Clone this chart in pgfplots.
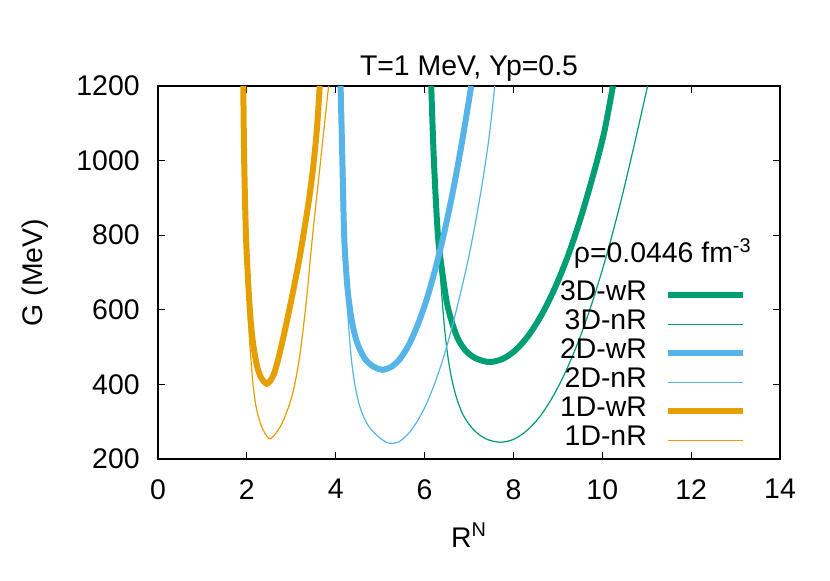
\documentclass[border=0pt]{standalone}
\usepackage{fontspec}
\setmainfont{Liberation Sans}
\usepackage{pgfplots}
\pgfplotsset{compat=1.18}

\definecolor{gpgreen}{HTML}{009E73}
\definecolor{gpblue}{HTML}{56B4E9}
\definecolor{gporange}{HTML}{E69F00}

\begin{document}
\fontsize{14.2bp}{17bp}\selectfont
\begin{tikzpicture}
\begin{axis}[
  scale only axis, width=311bp, height=186.5bp,
  xmin=0, xmax=14, ymin=200, ymax=1200,
  xtick={0,2,...,14}, ytick={200,400,...,1200},
  /pgf/number format/assume math mode=true,
  /pgf/number format/1000 sep={},
  tick align=inside, major tick length=3.5bp,
  axis line style={line width=0.7bp}, tick style={line width=0.6bp, black},
  xticklabel style={inner sep=0pt, yshift=-10bp},
  yticklabel style={inner sep=0pt, xshift=-9bp},
  xlabel={R\textsuperscript{N}}, ylabel={G (MeV)},
  xlabel style={at={(axis description cs:0.5,-0.236)}, anchor=base, inner sep=0pt},
  ylabel style={at={(axis description cs:-0.198,0.5)}, anchor=center, inner sep=0pt},
  title={T=1 MeV, Yp=0.5},
  every axis title shift=0pt,
  title style={at={(axis description cs:0.5,1.028)}, anchor=base, inner sep=0pt},
  legend cell align=right, legend plot pos=right,
  legend style={at={(rel axis cs:0.946,0.478)}, anchor=north east, draw=none, fill=none,
    inner sep=0pt, outer sep=0pt, column sep=9bp, row sep=0pt,
    nodes={inner sep=0pt, text height=10bp, text depth=4.5bp}},
  legend image code/.code={\draw[#1] (0bp,0bp) -- (37.8bp,0bp);},
  every axis plot/.append style={smooth, tension=0.5},
]
\addplot[gpgreen, line width=3bp] coordinates {(6.15,1200)(6.21,1000)(6.30,800)(6.40,700)(6.50,620)(6.62,565)(6.76,520)(6.93,490)(7.15,470)(7.45,460)(7.75,468)(8.05,492)(8.35,533)(8.65,590)(8.95,663)(9.25,752)(9.55,860)(9.85,985)(10.05,1080)(10.24,1200)};
\addlegendentry{3D-wR}
\addplot[gpgreen, line width=0.6bp] coordinates {(6.14,1200)(6.20,1000)(6.29,800)(6.38,652)(6.45,550)(6.53,470)(6.62,410)(6.73,360)(6.86,320)(7.02,290)(7.20,268)(7.42,252)(7.71,245)(8.01,253)(8.31,277)(8.61,316)(8.91,372)(9.21,443)(9.51,530)(9.81,633)(10.11,752)(10.41,887)(10.71,1037)(11.02,1200)};
\addlegendentry{3D-nR}
\addplot[gpblue, line width=3bp] coordinates {(4.11,1200)(4.15,1000)(4.19,800)(4.25,680)(4.31,610)(4.38,560)(4.46,520)(4.56,490)(4.68,465)(4.82,450)(4.95,442)(5.05,439)(5.25,447)(5.45,469)(5.65,507)(5.85,561)(6.05,629)(6.25,713)(6.45,811)(6.65,925)(6.85,1055)(7.05,1200)};
\addlegendentry{2D-wR}
\addplot[gpblue, line width=0.6bp] coordinates {(4.08,1200)(4.12,1000)(4.16,800)(4.24,650)(4.30,540)(4.36,460)(4.43,400)(4.52,350)(4.63,312)(4.77,283)(4.94,262)(5.08,249)(5.22,242)(5.42,246)(5.62,266)(5.82,298)(6.02,342)(6.22,400)(6.42,470)(6.62,554)(6.82,650)(7.00,745)(7.17,850)(7.32,955)(7.46,1070)(7.58,1200)};
\addlegendentry{2D-nR}
\addplot[gporange, line width=3bp] coordinates {(1.92,1200)(1.94,1000)(1.98,800)(2.04,652)(2.09,565)(2.14,510)(2.19,472)(2.25,440)(2.32,418)(2.39,407)(2.45,402)(2.53,410)(2.61,428)(2.70,465)(2.80,515)(2.92,580)(3.05,655)(3.18,735)(3.30,820)(3.41,905)(3.50,990)(3.58,1090)(3.64,1200)};
\addlegendentry{1D-wR}
\addplot[gporange, line width=0.6bp] coordinates {(1.91,1200)(1.93,1000)(1.96,800)(2.01,650)(2.05,540)(2.09,470)(2.14,400)(2.20,345)(2.28,305)(2.37,277)(2.45,261)(2.53,254)(2.64,267)(2.79,295)(2.94,340)(3.05,385)(3.17,460)(3.27,550)(3.37,660)(3.48,800)(3.66,1000)(3.84,1200)};
\addlegendentry{1D-nR}
\node[anchor=base east, inner sep=0pt] at (rel axis cs:0.955,0.5255) {ρ=0.0446 fm\textsuperscript{-3}};
\end{axis}
\pgfresetboundingbox
\path[use as bounding box] ([shift={(-79bp,-61bp)}]current axis.south west) rectangle ([shift={(25bp,43bp)}]current axis.north east);
\end{tikzpicture}
\end{document}
